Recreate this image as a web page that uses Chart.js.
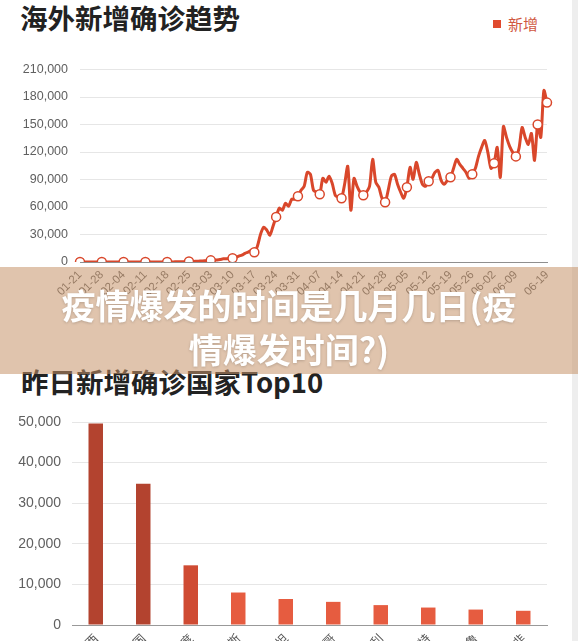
<!DOCTYPE html>
<html>
<head>
<meta charset="utf-8">
<script src="https://cdn.jsdelivr.net/npm/chart.js@4.4.1/dist/chart.umd.min.js"></script>
<style>
  html, body { margin: 0; padding: 0; }
  body {
    width: 578px; height: 641px; overflow: hidden; position: relative;
    background: #fff; font-family: 'Noto Sans CJK SC', 'Noto Sans', sans-serif;
  }
  .title { position: absolute; font-size: 27.5px; line-height: 27px; font-weight: bold; color: #222; white-space: nowrap; }
  .box { position: absolute; left: 0; width: 572px; }
  #legend { position: absolute; left: 493px; top: 16px; font-size: 15px; line-height: 15px; color: #d0573f; }
  #legend i { display: inline-block; width: 8px; height: 8px; background: #e04a2e; margin-right: 7px; vertical-align: 2px; }
  #edge { position: absolute; left: 572px; top: 0; width: 6px; height: 641px; background: #eeeeee; }
  #banner {
    position: absolute; left: 0; top: 267px; width: 578px; height: 107px; box-sizing: border-box;
    padding-top: 16px; background: rgba(199,148,106,0.55);
    color: #fff; font-size: 34px; line-height: 44px; font-weight: bold; text-align: center;
    text-shadow: 0 1px 3px rgba(0,0,0,0.18);
  }
</style>
</head>
<body>
<div id="edge"></div>
<div class="title" style="left:20px; top:4px;">海外新增确诊趋势</div>
<div id="legend"><i></i>新增</div>
<div class="box" style="top:50px; height:252px;"><canvas id="trend"></canvas></div>

<div class="title" style="left:21px; top:368px;">昨日新增确诊国家Top10</div>
<div class="box" style="top:400px; height:265px;"><canvas id="top10"></canvas></div>

<div id="banner">疫情爆发的时间是几月几日(疫<br>情爆发时间?)</div>

<script>
// daily dates, 01-21 .. 06-19
const dates = [
  '01-21','01-22','01-23','01-24','01-25','01-26','01-27',
  '01-28','01-29','01-30','01-31','02-01','02-02','02-03',
  '02-04','02-05','02-06','02-07','02-08','02-09','02-10',
  '02-11','02-12','02-13','02-14','02-15','02-16','02-17',
  '02-18','02-19','02-20','02-21','02-22','02-23','02-24',
  '02-25','02-26','02-27','02-28','02-29','03-01','03-02',
  '03-03','03-04','03-05','03-06','03-07','03-08','03-09',
  '03-10','03-11','03-12','03-13','03-14','03-15','03-16',
  '03-17','03-18','03-19','03-20','03-21','03-22','03-23',
  '03-24','03-25','03-26','03-27','03-28','03-29','03-30',
  '03-31','04-01','04-02','04-03','04-04','04-05','04-06',
  '04-07','04-08','04-09','04-10','04-11','04-12','04-13',
  '04-14','04-15','04-16','04-17','04-18','04-19','04-20',
  '04-21','04-22','04-23','04-24','04-25','04-26','04-27',
  '04-28','04-29','04-30','05-01','05-02','05-03','05-04',
  '05-05','05-06','05-07','05-08','05-09','05-10','05-11',
  '05-12','05-13','05-14','05-15','05-16','05-17','05-18',
  '05-19','05-20','05-21','05-22','05-23','05-24','05-25',
  '05-26','05-27','05-28','05-29','05-30','05-31','06-01',
  '06-02','06-03','06-04','06-05','06-06','06-07','06-08',
  '06-09','06-10','06-11','06-12','06-13','06-14','06-15',
  '06-16','06-17','06-18','06-19'
];

// overseas new confirmed per day
const newCases = [
  5, 4, 10, 14, 12, 20, 17,
  25, 18, 30, 26, 20, 33, 31,
  28, 30, 22, 18, 25, 15, 28,
  10, 12, 8, 20, 12, 75, 40,
  80, 65, 110, 190, 260, 310, 420,
  480, 560, 760, 900, 1150, 1350, 1700,
  1800, 2200, 2300, 2700, 3500, 3600, 3800,
  4100, 4800, 6500, 7500, 9500, 10800, 12500,
  10600, 17400, 30400, 38000, 34800, 29300, 39100,
  49200, 58700, 56500, 64100, 60900, 68500, 68500,
  71700, 78300, 82600, 97800, 95700, 78300, 76100,
  73900, 91300, 87000, 93500, 85900, 72800, 70700,
  69600, 85000, 104400, 56500, 91300, 82600, 76100,
  72800, 76100, 82600, 112000, 87000, 81500, 69600,
  65200, 78300, 93500, 95700, 84800, 76100, 69600,
  81500, 103300, 90200, 108700, 95700, 84800, 82600,
  88000, 91300, 97800, 100000, 89100, 84800, 89100,
  92400, 102200, 112000, 106500, 102200, 97800, 91300,
  95700, 102200, 115200, 125000, 132600, 119600, 102200,
  107600, 125000, 92400, 147800, 135900, 126100, 119600,
  115200, 123900, 146700, 135900, 128300, 140200, 110900,
  150000, 135900, 187000, 173900
];

const trendTicks = [0, 30000, 60000, 90000, 120000, 150000, 180000, 210000];

const countries = ['巴西', '美国', '印度', '俄罗斯', '巴基斯坦', '墨西哥', '智利', '沙特', '秘鲁', '南非'];
const yesterdayNew = [49600, 34800, 14700, 8000, 6400, 5700, 4900, 4300, 3800, 3500];
const barColors = ['#b3432f', '#b3432f', '#cf4b33', '#e65c40', '#e65c40', '#e65c40', '#e65c40', '#e65c40', '#e65c40', '#e65c40'];
const top10Ticks = [0, 10000, 20000, 30000, 40000, 50000];

const RED = '#d9472b';
const lastIdx = dates.length - 1;
// weekly markers plus the last day
const marked = i => i % 7 === 0 || i === lastIdx;
// the 06-16 label would collide with 06-19, so it is left out
const labelled = i => marked(i) && i < lastIdx - 7 || i === lastIdx;
const fmt = v => Number(v).toLocaleString('en-US');

new Chart(document.getElementById('trend'), {
  type: 'line',
  data: {
    labels: dates,
    datasets: [{
      label: '新增',
      data: newCases,
      borderColor: RED,
      borderWidth: 3,
      tension: 0.25,
      pointRadius: ctx => marked(ctx.dataIndex) ? 4.5 : 0,
      pointBackgroundColor: '#fff',
      pointBorderColor: RED,
      pointBorderWidth: 1.5
    }]
  },
  options: {
    responsive: true,
    maintainAspectRatio: false,
    animation: false,
    layout: { padding: { top: 19, right: 25, left: 0, bottom: 0 } },
    plugins: { legend: { display: false }, tooltip: { enabled: false } },
    scales: {
      x: {
        grid: { color: 'transparent', drawTicks: false },
        border: { color: '#8f8f8f', width: 1 },
        ticks: {
          autoSkip: false, minRotation: 45, maxRotation: 45, padding: 6,
          color: '#5c5c5c', font: { family: 'Liberation Sans', size: 11.5 },
          callback: (v, i) => labelled(i) ? dates[i] : ''
        },
        afterFit: s => { s.height = 40; }
      },
      y: {
        min: 0, max: 210000,
        afterBuildTicks: s => { s.ticks = trendTicks.map(v => ({ value: v })); },
        grid: { color: '#e6e6e6', drawTicks: false },
        border: { display: false },
        ticks: { padding: 12, color: '#606060', font: { family: 'Liberation Sans', size: 12.5 }, callback: fmt },
        afterFit: s => { s.width = 80; }
      }
    }
  }
});

new Chart(document.getElementById('top10'), {
  type: 'bar',
  data: {
    labels: countries,
    datasets: [{
      data: yesterdayNew,
      backgroundColor: barColors,
      categoryPercentage: 1,
      barPercentage: 0.305
    }]
  },
  options: {
    responsive: true,
    maintainAspectRatio: false,
    animation: false,
    layout: { padding: { top: 22, right: 25, left: 0, bottom: 0 } },
    plugins: { legend: { display: false }, tooltip: { enabled: false } },
    scales: {
      x: {
        grid: { color: 'transparent', drawTicks: false },
        border: { color: '#999', width: 1 },
        ticks: {
          minRotation: 45, maxRotation: 45, padding: 6,
          color: '#555', font: { family: 'Noto Sans CJK SC', size: 12 }
        },
        afterFit: s => { s.height = 40; }
      },
      y: {
        min: 0, max: 50000,
        afterBuildTicks: s => { s.ticks = top10Ticks.map(v => ({ value: v })); },
        grid: { color: '#e6e6e6', drawTicks: false },
        border: { display: false },
        ticks: { padding: 11, color: '#606060', font: { family: 'Liberation Sans', size: 14 }, callback: fmt },
        afterFit: s => { s.width = 72; }
      }
    }
  }
});
</script>
</body>
</html>
